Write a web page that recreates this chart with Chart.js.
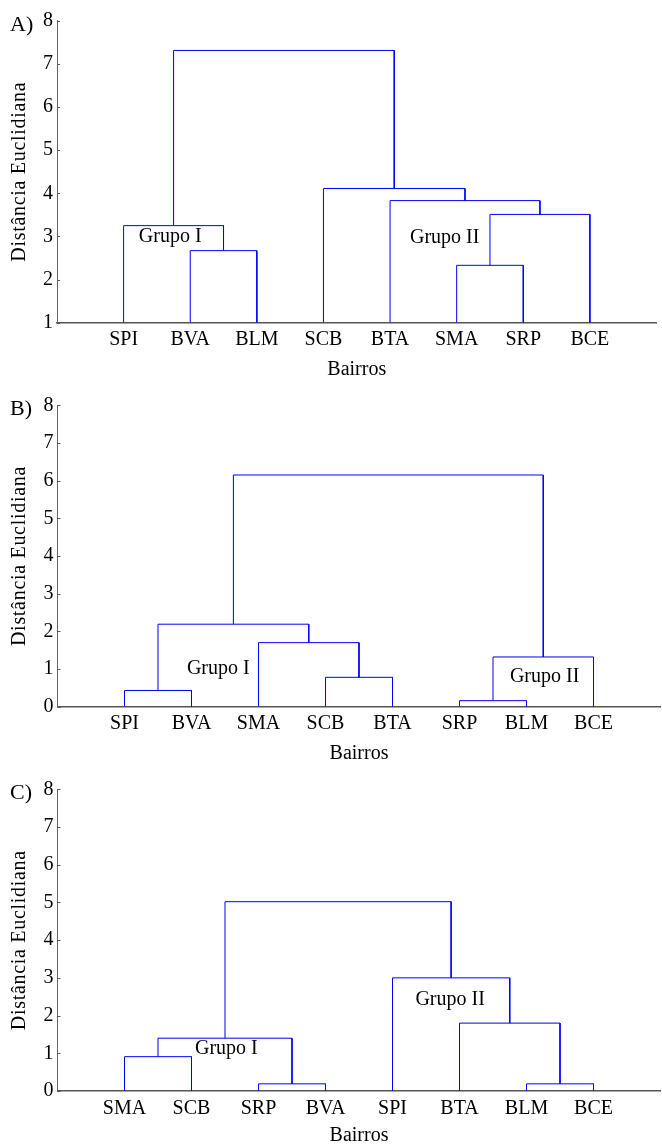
<!DOCTYPE html>
<html>
<head>
<meta charset="utf-8">
<script src="https://cdn.jsdelivr.net/npm/chart.js@4.4.0/dist/chart.umd.min.js"></script>
<style>
html,body{margin:0;padding:0;background:#fff;overflow:hidden;width:662px;height:1144px;position:relative;}
canvas{position:absolute;left:0;display:block;}
</style>
</head>
<body>
<canvas id="cA"></canvas>
<canvas id="cB"></canvas>
<canvas id="cC"></canvas>
<script>
// ---------- DATA ----------
// Panel A
const leavesA = ['SPI','BVA','BLM','SCB','BTA','SMA','SRP','BCE'];
const mergeLeftA   = [1, 0, 5, 10, 4, 3, 9];
const mergeRightA  = [2, 8, 6, 7, 11, 12, 13];
const mergeHeightA = [2.67, 3.25, 2.33, 3.51, 3.83, 4.11, 7.31];
const yTicksA = [1,2,3,4,5,6,7,8];

// Panel B
const leavesB = ['SPI','BVA','SMA','SCB','BTA','SRP','BLM','BCE'];
const mergeLeftB   = [0, 3, 2, 8, 5, 12, 11];
const mergeRightB  = [1, 4, 9, 10, 6, 7, 13];
const mergeHeightB = [0.43, 0.78, 1.70, 2.19, 0.16, 1.32, 6.15];
const yTicksB = [0,1,2,3,4,5,6,7,8];

// Panel C
const leavesC = ['SMA','SCB','SRP','BVA','SPI','BTA','BLM','BCE'];
const mergeLeftC   = [0, 2, 8, 6, 5, 4, 10];
const mergeRightC  = [1, 3, 9, 7, 11, 12, 13];
const mergeHeightC = [0.91, 0.19, 1.40, 0.19, 1.80, 3.00, 5.02];
const yTicksC = [0,1,2,3,4,5,6,7,8];

const groupNames = ['Grupo I','Grupo II'];
const panelNames = ['A)','B)','C)'];
const yTitle = 'Distância Euclidiana';
const xTitle = 'Bairros';

// ---------- HELPERS ----------
const FONT = '"Liberation Serif", "Times New Roman", serif';
const FS = 20;
const BLUE = '#0000ff';

function dendroDatasets(nLeaves, left, right, heights, base) {
  const pos = [], ht = [];
  for (let i = 0; i < nLeaves; i++) { pos.push(i + 1); ht.push(base); }
  const ds = [];
  for (let k = 0; k < left.length; k++) {
    const a = left[k], b = right[k], h = heights[k];
    ds.push({
      data: [{x: pos[a], y: ht[a]}, {x: pos[a], y: h}, {x: pos[b], y: h}, {x: pos[b], y: ht[b]}],
      showLine: true, borderColor: BLUE, borderWidth: 1, pointRadius: 0, tension: 0, fill: false
    });
    pos.push((pos[a] + pos[b]) / 2); ht.push(h);
  }
  return ds;
}

const annotPlugin = {
  id: 'annot',
  afterDraw(chart, args, opts) {
    const ctx = chart.ctx, xs = chart.scales.x, ys = chart.scales.y, ca = chart.chartArea;
    ctx.save();
    // small inner tick marks
    ctx.strokeStyle = '#555'; ctx.lineWidth = 1;
    ys.ticks.forEach(t => {
      const py = Math.round(ys.getPixelForValue(t.value)) + 0.5;
      ctx.beginPath(); ctx.moveTo(ca.left, py); ctx.lineTo(ca.left + 3, py); ctx.stroke();
    });
    // group labels
    ctx.fillStyle = '#000';
    ctx.font = FS + 'px ' + FONT; ctx.textAlign = 'center'; ctx.textBaseline = 'middle';
    opts.groups.forEach(g => ctx.fillText(g.text, xs.getPixelForValue(g.x), ys.getPixelForValue(g.y)));
    // panel label
    ctx.font = '22px ' + FONT; ctx.textAlign = 'left'; ctx.textBaseline = 'alphabetic';
    ctx.fillText(opts.panel, 10, ca.top + 10);
    // y title
    ctx.translate(25, (ca.top + ca.bottom) / 2); ctx.rotate(-Math.PI / 2);
    ctx.letterSpacing = '0.7px';
    ctx.font = FS + 'px ' + FONT; ctx.textAlign = 'center'; ctx.textBaseline = 'alphabetic';
    ctx.fillText(yTitle, 0, 0);
    ctx.letterSpacing = '0px';
    ctx.restore();
  }
};

function makePanel(id, p) {
  const cv = document.getElementById(id);
  cv.width = p.W; cv.height = p.H;
  cv.style.width = p.W + 'px'; cv.style.height = p.H + 'px'; cv.style.top = p.top + 'px';
  return new Chart(cv, {
    type: 'scatter',
    data: { datasets: dendroDatasets(p.leaves.length, p.left, p.right, p.heights, p.yTicks[0]) },
    options: {
      responsive: false, animation: false, devicePixelRatio: 1,
      layout: { padding: { left: 0, right: p.padRight, top: p.padTop, bottom: 0 } },
      plugins: {
        legend: { display: false }, tooltip: { enabled: false },
        annot: { groups: p.groups, panel: p.panel }
      },
      scales: {
        x: {
          type: 'linear', min: 0, max: p.leaves.length + 1,
          grid: { display: false, drawTicks: false, tickLength: 0 },
          border: { display: true, color: '#555', width: 1.5 },
          ticks: {
            stepSize: 1, autoSkip: false, maxRotation: 0, padding: 5.5,
            color: '#000', font: { family: FONT, size: FS },
            callback: v => (v >= 1 && v <= p.leaves.length) ? p.leaves[v - 1] : ''
          },
          title: { display: true, text: xTitle, color: '#000', font: { family: FONT, size: FS },
                   padding: { top: 0, bottom: p.titlePad } },
          afterFit: s => { s.height = p.xHeight; }
        },
        y: {
          min: p.yTicks[0], max: p.yTicks[p.yTicks.length - 1],
          grid: { display: false, drawTicks: false, tickLength: 0 },
          border: { display: true, color: '#666', width: 1 },
          afterBuildTicks: s => { s.ticks = p.yTicks.map(v => ({ value: v })); },
          ticks: { padding: 4, color: '#000', font: { family: FONT, size: FS } },
          afterFit: s => { s.width = p.yWidth; }
        }
      }
    },
    plugins: [annotPlugin]
  });
}

makePanel('cA', {
  top: 0, W: 662, H: 385, padTop: 20.7, padRight: 5, yWidth: 57, xHeight: 62.3, titlePad: 3,
  leaves: leavesA, left: mergeLeftA, right: mergeRightA, heights: mergeHeightA, yTicks: yTicksA,
  panel: panelNames[0],
  groups: [{ text: groupNames[0], x: 1.70, y: 2.99 }, { text: groupNames[1], x: 5.82, y: 2.96 }]
});
makePanel('cB', {
  top: 385, W: 666, H: 385, padTop: 20.3, padRight: 3, yWidth: 57.5, xHeight: 63.3, titlePad: 4.7,
  leaves: leavesB, left: mergeLeftB, right: mergeRightB, heights: mergeHeightB, yTicks: yTicksB,
  panel: panelNames[1],
  groups: [{ text: groupNames[0], x: 2.40, y: 1.00 }, { text: groupNames[1], x: 7.27, y: 0.80 }]
});
makePanel('cC', {
  top: 770, W: 666, H: 390, padTop: 19.3, padRight: 3, yWidth: 57.5, xHeight: 69, titlePad: 12,
  leaves: leavesC, left: mergeLeftC, right: mergeRightC, heights: mergeHeightC, yTicks: yTicksC,
  panel: panelNames[2],
  groups: [{ text: groupNames[0], x: 2.52, y: 1.11 }, { text: groupNames[1], x: 5.86, y: 2.41 }]
});
</script>
</body>
</html>
